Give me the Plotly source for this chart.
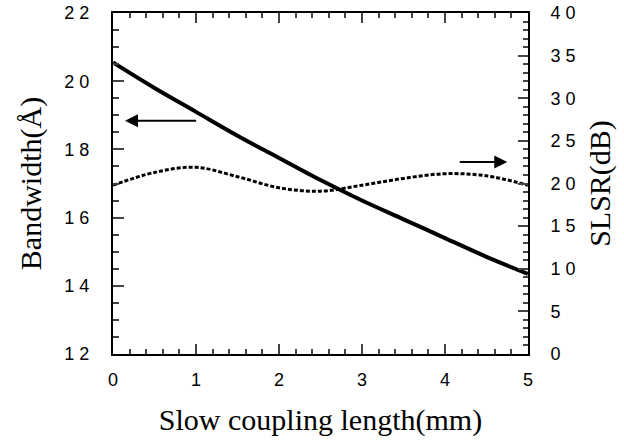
import plotly.graph_objects as go

length_mm = [0, 0.5, 1, 1.5, 2, 2.5, 3, 3.5, 4, 4.5, 5]
bandwidth = [20.55, 19.8, 19.1, 18.4, 17.75, 17.1, 16.5, 15.95, 15.4, 14.85, 14.35]
slsr = [19.8, 21.3, 21.9, 20.8, 19.5, 19.1, 19.8, 20.6, 21.15, 20.9, 19.8]

x_ticks = [0, 1, 2, 3, 4, 5]
x_ticktext = ["0", "1", "2", "3", "4", "5"]
y_ticks = [12, 14, 16, 18, 20, 22]
y_ticktext = ["1 2", "1 4", "1 6", "1 8", "2 0", "2 2"]
y2_ticks = [0, 5, 10, 15, 20, 25, 30, 35, 40]
y2_ticktext = ["0", "5", "1 0", "1 5", "2 0", "2 5", "3 0", "3 5", "4 0"]

tickfont = dict(family="Liberation Sans, Arial", size=18, color="black")
titlefont = dict(family="Liberation Serif, Times New Roman", size=30, color="black")

fig = go.Figure()
fig.add_trace(go.Scatter(x=length_mm, y=bandwidth, mode="lines", line=dict(color="black", width=4, shape="spline"),
                         yaxis="y", showlegend=False))
fig.add_trace(go.Scatter(x=length_mm, y=slsr, mode="lines", line=dict(color="black", width=3, dash="4px,2px", shape="spline"),
                         yaxis="y2", showlegend=False))

fig.update_layout(
    width=624, height=448,
    margin=dict(l=113, r=96, t=13, b=94),
    plot_bgcolor="white", paper_bgcolor="white",
    xaxis=dict(range=[0, 5], tickvals=x_ticks, ticktext=x_ticktext, ticks="inside", ticklen=10, tickwidth=2,
               showline=True, linewidth=2, linecolor="black", mirror="ticks", showgrid=False, zeroline=False,
               tickfont=tickfont, ticklabelstandoff=8, automargin=False,
               minor=dict(dtick=0.2, ticks="inside", ticklen=5, tickwidth=1.5, showgrid=False),
               title=dict(text="Slow coupling length(mm)", font=titlefont, standoff=20)),
    yaxis=dict(range=[12, 22], tickvals=y_ticks, ticktext=y_ticktext, ticks="inside", ticklen=11, tickwidth=2,
               showline=True, linewidth=2, linecolor="black", showgrid=False, zeroline=False,
               tickfont=tickfont, ticklabelstandoff=18, automargin=False,
               minor=dict(dtick=0.5, ticks="inside", ticklen=6, tickwidth=1.5, showgrid=False),
               title=dict(text="Bandwidth(Å)", font=titlefont, standoff=14)),
    yaxis2=dict(range=[0, 40], overlaying="y", side="right", tickvals=y2_ticks, ticktext=y2_ticktext,
                ticks="inside", ticklen=10, tickwidth=2,
                showline=True, linewidth=2, linecolor="black", showgrid=False, zeroline=False,
                tickfont=tickfont, ticklabelstandoff=17, automargin=False,
                minor=dict(dtick=1, ticks="inside", ticklen=5, tickwidth=1.5, showgrid=False),
                title=dict(text="SLSR(dB)", font=titlefont, standoff=14)),
)

fig.add_annotation(x=0.145, y=18.84, ax=1.02, ay=18.84, xref="x", yref="y", axref="x", ayref="y",
                   showarrow=True, arrowhead=2, arrowsize=1.3, arrowwidth=2, arrowcolor="black", text="")
fig.add_annotation(x=4.75, y=17.63, ax=4.16, ay=17.63, xref="x", yref="y", axref="x", ayref="y",
                   showarrow=True, arrowhead=2, arrowsize=1.3, arrowwidth=2, arrowcolor="black", text="")

fig.write_html("out.html", config={"displayModeBar": False},
               post_script="document.body.style.margin='0';")
